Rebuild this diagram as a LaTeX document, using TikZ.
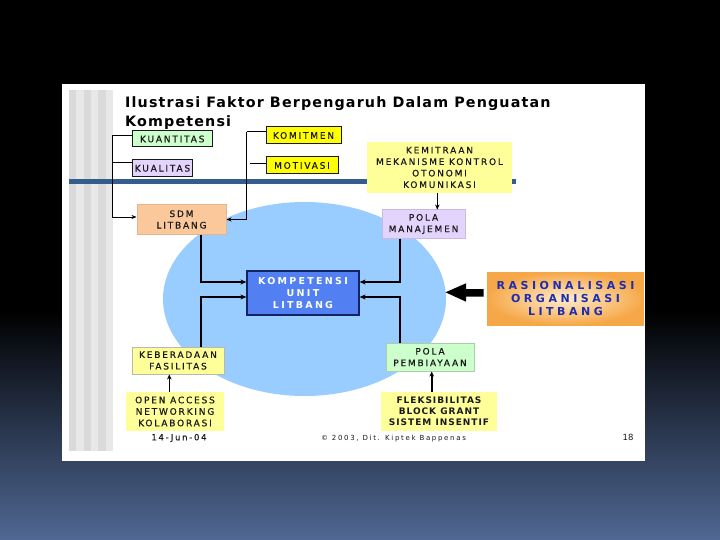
\documentclass[tikz,border=0pt]{standalone}
\usepackage{fontspec}
\setmainfont{DejaVu Sans}
\newfontfamily\bxf[LetterSpace=20,FakeBold=0.6]{DejaVu Sans}
\newfontfamily\bxk[LetterSpace=24]{DejaVu Sans}
\newfontfamily\bxr[LetterSpace=32]{DejaVu Sans}
\newfontfamily\bxe[LetterSpace=11]{DejaVu Sans}
\newfontfamily\bxc[LetterSpace=24]{DejaVu Sans}
\newfontfamily\ttlf[LetterSpace=8]{DejaVu Sans}
\usetikzlibrary{shapes.geometric,arrows.meta}
\definecolor{bgbot}{RGB}{80,104,148}
\definecolor{stripeA}{RGB}{218,218,218}
\definecolor{stripeB}{RGB}{232,232,232}
\definecolor{bluebar}{RGB}{52,92,140}
\definecolor{ellblue}{RGB}{153,204,255}
\definecolor{cgreen}{RGB}{204,255,204}
\definecolor{clav}{RGB}{226,212,252}
\definecolor{cyel}{RGB}{255,255,0}
\definecolor{cpyel}{RGB}{255,255,153}
\definecolor{cpeach}{RGB}{250,200,155}
\definecolor{cpeachb}{RGB}{230,180,140}
\definecolor{clavb}{RGB}{200,185,225}
\definecolor{cgreenb}{RGB}{170,205,170}
\definecolor{cgreyb}{RGB}{185,185,170}
\definecolor{kompblue}{RGB}{82,128,242}
\definecolor{kompb}{RGB}{20,35,100}
\definecolor{orin}{RGB}{255,236,205}
\definecolor{orout}{RGB}{246,168,72}
\definecolor{rastext}{RGB}{30,45,175}
\definecolor{txt}{RGB}{25,25,25}
\tikzset{
  lbl/.style={rectangle, inner sep=0pt, align=center, text=txt,
    font=\bxf\fontsize{9}{11.5}\selectfont},
  darkbox/.style={lbl, draw=txt, line width=1pt},
  bus/.style={draw=black, line width=0.9pt},
  busarrow/.style={bus, -{Stealth[length=5pt,width=4pt]}},
  thickarrow/.style={draw=black, line width=1.6pt, -{Stealth[length=6pt,width=5pt]}},
  smallarrow/.style={draw=black, line width=1.3pt, -{Stealth[length=5pt,width=4.5pt]}},
}
\begin{document}
\begin{tikzpicture}[x=1pt,y=-1pt]
\useasboundingbox (0,0) rectangle (720,540);
% background
\fill[black] (0,0) rectangle (720,540);
\shade[top color=black, bottom color=bgbot] (0,310) rectangle (720,540);
% slide
\fill[white] (62,84) rectangle (645,461);
\foreach \i in {0,...,5} {
  \pgfmathtruncatemacro{\m}{mod(\i,2)}
  \ifnum\m=0 \fill[stripeA] (69+\i*7.3,90) rectangle (69+\i*7.3+7.3,451);
  \else \fill[stripeB] (69+\i*7.3,90) rectangle (69+\i*7.3+7.3,451); \fi
}
\fill[bluebar] (69,179.5) rectangle (515,184.5);
% title
\node[anchor=base west, inner sep=0pt, font=\ttlf\bfseries\fontsize{14.3}{16}\selectfont] (title1) at (125,108) {Ilustrasi Faktor Berpengaruh Dalam Penguatan};
\node[anchor=base west, inner sep=0pt, font=\ttlf\bfseries\fontsize{14.3}{16}\selectfont] (title2) at (125,127) {Kompetensi};
% ellipse
\node[ellipse, fill=ellblue, inner sep=0pt, minimum width=283pt, minimum height=194pt] (circ) at (304.5,299) {};
% boxes
\node[darkbox, fill=cgreen, minimum width=79.5pt, minimum height=16pt] (kuant) at (172.25,139) {KUANTITAS};
\node[darkbox, fill=clav, minimum width=60pt, minimum height=16.5pt] (kual) at (162.5,168.25) {KUALITAS};
\node[darkbox, fill=cyel, minimum width=75pt, minimum height=17pt] (komit) at (303.5,135.5) {KOMITMEN};
\node[darkbox, fill=cyel, minimum width=72pt, minimum height=17pt] (motiv) at (302,165.5) {MOTIVASI};
\node[lbl, fill=cpeach, draw=cpeachb, line width=1pt, minimum width=89pt, minimum height=29pt] (sdm) at (181.5,219.5) {SDM\\LITBANG};
\node[lbl, fill=cpyel, minimum width=145pt, minimum height=51pt] (kemit) at (439.5,167.5) {KEMITRAAN\\MEKANISME KONTROL\\OTONOMI\\KOMUNIKASI};
\fill[bluebar] (512,179.5) rectangle (515.5,184.5);
\node[lbl, fill=clav, draw=clavb, line width=1pt, minimum width=83pt, minimum height=28pt] (manaj) at (423.5,224) {POLA\\MANAJEMEN};
\node[lbl, fill=kompblue, draw=kompb, line width=1.2pt, text=white, minimum width=112pt, minimum height=44pt,
  font=\bxk\bfseries\fontsize{9.5}{12}\selectfont] (komp) at (303,293) {KOMPETENSI\\UNIT\\LITBANG};
\node[lbl, inner color=orin, outer color=orout, text=rastext, minimum width=157pt, minimum height=53pt,
  font=\bxr\bfseries\fontsize{11}{13}\selectfont] (ras) at (565.5,298.5) {RASIONALISASI\\ORGANISASI\\LITBANG};
\node[lbl, fill=cpyel, draw=cgreyb, line width=1pt, minimum width=92pt, minimum height=27pt] (kebe) at (178,360.5) {KEBERADAAN\\FASILITAS};
\node[lbl, fill=cpyel, minimum width=98pt, minimum height=39pt] (open) at (175,411.5) {OPEN ACCESS\\NETWORKING\\KOLABORASI};
\node[lbl, fill=cgreen, draw=cgreenb, line width=1pt, minimum width=88pt, minimum height=28pt] (biaya) at (430,357) {POLA\\PEMBIAYAAN};
\node[lbl, fill=cpyel, minimum width=116pt, minimum height=39pt,
  font=\bxe\bfseries\fontsize{9}{11}\selectfont] (fleks) at (439,411.5) {FLEKSIBILITAS\\BLOCK GRANT\\SISTEM INSENTIF};
% footer
\node[lbl, font=\bxf\fontsize{8.5}{10}\selectfont] (date) at (179,438) {14-Jun-04};
\node[lbl, font=\bxc\fontsize{7}{8}\selectfont] (copy) at (393.5,438.5) {© 2003, Dit. Kiptek Bappenas};
\node[lbl, font=\fontsize{8.5}{10}\selectfont] (page) at (628,437.5) {18};
% left bus
\draw[bus] ([yshift=4pt]kuant.west) -- ++(-19.5pt,0) coordinate (lb1);
\draw[bus] ([yshift=5.5pt]kual.west) -- ++(-19.5pt,0);
\draw[busarrow] (lb1) |- ([yshift=2.5pt]sdm.west);
% right bus
\draw[bus] ([yshift=3.8pt]komit.west) -- ++(-18.7pt,0) coordinate (rb1);
\draw[bus] ([yshift=2.2pt]motiv.west) -- ++(-15.7pt,0);
\draw[busarrow] (rb1) |- (sdm.east);
% into kompetensi
\draw[thickarrow] ([xshift=19.5pt]sdm.south) |- ([yshift=11pt]komp.west);
\draw[thickarrow] ([xshift=23pt]kebe.north) |- ([yshift=-4pt]komp.west);
\draw[thickarrow] ([xshift=-23.5pt]manaj.south) |- ([yshift=11pt]komp.east);
\draw[thickarrow] ([xshift=-30pt]biaya.north) |- ([yshift=-4pt]komp.east);
% small arrows
\draw[smallarrow] ([xshift=-2.2pt]kemit.south) -- ([xshift=-2.2pt]kemit.south |- manaj.north);
\draw[smallarrow] ([xshift=-5.7pt]open.north) -- ([xshift=-5.7pt]open.north |- kebe.south);
\draw[smallarrow, line width=1.8pt] ([xshift=-7.3pt]fleks.north) -- ([xshift=-7.3pt]fleks.north |- biaya.south);
% big arrow
\fill[black] (483.5,289) -- (466,289) -- (466,283.3) -- (445.5,292.3) -- (466,301.7) -- (466,296.7) -- (483.5,296.7) -- cycle;
\end{tikzpicture}
\end{document}
